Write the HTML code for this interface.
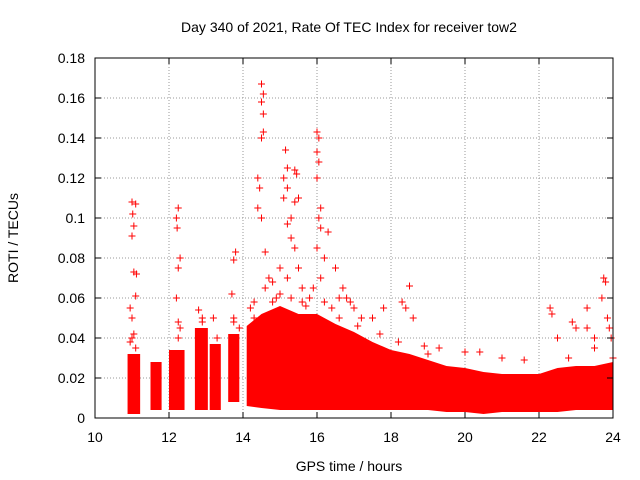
<!DOCTYPE html>
<html><head><meta charset="utf-8"><style>
body{margin:0;background:#fff}
svg{display:block;font-family:"Liberation Sans",sans-serif}
</style></head><body>
<svg id="chart" width="640" height="480" viewBox="0 0 640 480">
<rect width="640" height="480" fill="#fff"/>
<text x="349" y="32" font-size="14" text-anchor="middle">Day 340 of 2021, Rate Of TEC Index for receiver tow2</text>
<text x="349" y="471" font-size="14" text-anchor="middle">GPS time / hours</text>
<text x="18" y="238" font-size="14" text-anchor="middle" transform="rotate(-90 18 238)">ROTI / TECUs</text>
<g id="grid"></g>
<g id="marks"></g>
<rect x="95" y="58" width="518" height="360" fill="none" stroke="#000" stroke-width="1"/>
<g id="ticks"></g>
</svg>
<script>
const xTicks=[10,12,14,16,18,20,22,24];
const yTicks=[0,0.02,0.04,0.06,0.08,0.1,0.12,0.14,0.16,0.18];
const yTickLabels=["0","0.02","0.04","0.06","0.08","0.1","0.12","0.14","0.16","0.18"];
const clusterStart=[10.88,11.5,12.0,12.7,13.1,13.6];
const clusterEnd=[11.22,11.8,12.42,13.05,13.4,13.9];
const clusterLo=[0.002,0.004,0.004,0.004,0.004,0.008];
const clusterHi=[0.032,0.028,0.034,0.045,0.037,0.042];
const bandT=[14.1,14.5,15,15.5,16,16.5,17,17.5,18,18.5,19,19.5,20,20.5,21,21.5,22,22.5,23,23.5,24];
const bandHi=[.046,.052,.056,.052,.052,.047,.043,.038,.034,.032,.029,.026,.025,.023,.022,.022,.022,.025,.026,.026,.028];
const bandLo=[.006,.005,.004,.004,.004,.004,.004,.004,.004,.004,.004,.003,.003,.002,.003,.003,.003,.003,.004,.004,.004];
const ptT=[11.0,11.02,11.05,11.0,11.1,11.05,11.12,11.1,10.95,11.0,11.05,12.2,12.25,12.22,12.3,12.25,12.2,12.25,12.3,12.8,12.9,13.2,13.8,13.75,13.7,13.75,13.9,14.4,14.5,14.55,14.5,14.55,14.5,14.55,14.45,14.4,14.5,14.6,14.7,14.8,15.0,15.1,15.15,15.2,15.2,15.1,15.3,15.2,15.4,15.45,15.5,15.4,15.3,15.4,15.5,15.2,15.6,16.0,16.05,16.0,16.05,16.0,16.1,16.05,16.1,16.0,16.2,16.3,16.5,16.6,16.1,16.7,16.8,16.9,17.0,17.2,17.5,17.8,18.3,18.5,18.4,18.6,18.9,19.3,20.0,20.4,21.0,21.6,22.3,22.35,22.5,22.8,22.9,23.0,23.3,23.3,23.5,23.75,23.8,23.7,23.85,23.9,23.95,23.5,24.0,14.2,14.6,14.9,15.0,15.3,15.6,15.8,15.9,16.2,16.4,14.3,13.75,10.95,11.0,11.1,12.25,12.9,13.3,14.3,14.8,15.7,16.6,17.1,17.7,18.2,19.0];
const ptV=[.108,.102,.096,.091,.107,.073,.072,.061,.055,.05,.042,.1,.105,.095,.08,.075,.06,.048,.045,.054,.05,.05,.083,.079,.062,.048,.045,.12,.167,.162,.158,.152,.14,.143,.115,.105,.1,.083,.07,.068,.075,.12,.134,.125,.115,.11,.1,.097,.124,.122,.11,.108,.09,.085,.075,.07,.065,.143,.14,.133,.128,.12,.105,.1,.095,.085,.08,.093,.075,.06,.07,.065,.06,.058,.055,.05,.05,.055,.058,.066,.055,.05,.036,.035,.033,.033,.03,.029,.055,.052,.04,.03,.048,.045,.055,.045,.04,.07,.068,.06,.05,.045,.04,.035,.03,.055,.065,.06,.062,.06,.058,.06,.065,.058,.055,.05,.05,.038,.04,.035,.04,.048,.04,.058,.058,.056,.05,.046,.042,.038,.032];

const NS="http://www.w3.org/2000/svg";
const X=t=>95+(t-10)/14*518;
const Y=v=>418-v/0.18*360;
function mk(tag,attrs,parent){const e=document.createElementNS(NS,tag);for(const k in attrs)e.setAttribute(k,attrs[k]);parent.appendChild(e);return e;}
const grid=document.getElementById('grid'),ticks=document.getElementById('ticks'),marks=document.getElementById('marks');
xTicks.forEach(t=>{
  if(t>10&&t<24){const g=mk('line',{x1:X(t),x2:X(t),y1:58,y2:418,stroke:'#999','stroke-dasharray':'1,2','stroke-width':1},grid);
  
  }
  mk('line',{x1:X(t),x2:X(t),y1:418,y2:412,stroke:'#000'},ticks);
  mk('line',{x1:X(t),x2:X(t),y1:58,y2:64,stroke:'#000'},ticks);
  const l=mk('text',{x:X(t),y:442,'font-size':14,'text-anchor':'middle'},ticks);l.textContent=t;
  
  
});
yTicks.forEach((v,i)=>{
  if(i>0&&i<yTicks.length-1){const g=mk('line',{x1:95,x2:613,y1:Y(v),y2:Y(v),stroke:'#999','stroke-dasharray':'1,2','stroke-width':1},grid);
  
  }
  mk('line',{x1:95,x2:101,y1:Y(v),y2:Y(v),stroke:'#000'},ticks);
  mk('line',{x1:613,x2:607,y1:Y(v),y2:Y(v),stroke:'#000'},ticks);
  const l=mk('text',{x:85,y:Y(v)+5,'font-size':14,'text-anchor':'end'},ticks);l.textContent=yTickLabels[i];
  
  
});
clusterStart.forEach((s,i)=>{
  const r=mk('rect',{x:X(s),y:Y(clusterHi[i]),width:X(clusterEnd[i])-X(s),height:Y(clusterLo[i])-Y(clusterHi[i]),fill:'#f00'},marks);
  
  
});
let d='M'+bandT.map((t,i)=>X(t)+','+Y(bandHi[i])).join('L');
for(let i=bandT.length-1;i>=0;i--)d+='L'+X(bandT[i])+','+Y(bandLo[i]);
const band=mk('path',{d:d+'Z',fill:'#f00'},marks);


ptT.forEach((t,i)=>{
  const x=X(t),y=Y(ptV[i]);
  const p=mk('path',{d:`M${x-3.5},${y}h7M${x},${y-3.5}v7`,stroke:'#f00','stroke-width':1},marks);
  
  
});
</script>
</body></html>
